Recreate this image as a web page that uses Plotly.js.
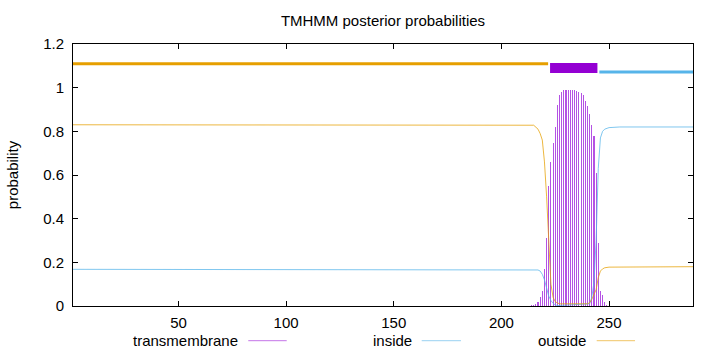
<!DOCTYPE html>
<html>
<head>
<meta charset="utf-8">
<script src="https://cdn.plot.ly/plotly-3.0.1.min.js"></script>
<style>html,body{margin:0;padding:0;background:#fff;}#chart{width:720px;height:352px;}</style>
</head>
<body>
<div id="chart"></div>
<script>
// Transmembrane posterior probability (impulses)
const tmPos = [213,214,215,216,217,218,219,220,221,222,223,224,225,226,227,228,229,230,231,232,233,234,235,236,237,238,239,240,241,242,243,244,245,246,247,248,249,250];
const tmProb = [0.002,0.003,0.005,0.01,0.02,0.04,0.07,0.17,0.31,0.55,0.66,0.745,0.82,0.92,0.965,0.982,0.988,0.99,0.99,0.99,0.99,0.99,0.986,0.98,0.976,0.966,0.94,0.915,0.88,0.83,0.78,0.61,0.29,0.07,0.05,0.02,0.006,0.002];

// Inside posterior probability
const inPos = [1,217,218,219,220,221,222,223,224,225,226,241,242,243,244,245,246,247,248,250,255,289];
const inProb = [0.168,0.165,0.16,0.145,0.12,0.085,0.045,0.025,0.012,0.005,0.002,0.01,0.04,0.11,0.30,0.63,0.77,0.80,0.81,0.817,0.82,0.82];

// Outside posterior probability
const outPos = [1,215,217,218,219,220,221,222,223,224,225,226,227,240,241,242,243,244,245,246,247,248,250,289];
const outProb = [0.83,0.828,0.81,0.79,0.76,0.66,0.50,0.28,0.10,0.04,0.02,0.014,0.01,0.01,0.015,0.03,0.05,0.075,0.13,0.16,0.17,0.175,0.178,0.18];

// Predicted topology segments (start, end) and their bar heights
const segOutside = [1, 221.7];
const segTM = [222.6, 244.6];
const segInside = [245.5, 289];
const barY = {outside: 1.11, tm: 1.09, inside: 1.072};

const xTicks = [50,100,150,200,250];
const yTicks = [0,0.2,0.4,0.6,0.8,1,1.2];
const yTickText = ['0','0.2','0.4','0.6','0.8','1','1.2'];
const legendNames = ['transmembrane','inside','outside'];

const cTM = '#9400d3', cIn = '#56b4e9', cOut = '#e69f00';
const font = 'Liberation Sans, Arial, sans-serif';
const fs = 15;

const traces = [
  {type:'bar', x: tmPos, y: tmProb, width: 0.5, marker:{color:'#b452e4', line:{width:0}}, showlegend:false},
  {type:'scatter', mode:'lines', x: inPos, y: inProb, line:{color:cIn, width:1}, opacity:0.75, showlegend:false},
  {type:'scatter', mode:'lines', x: outPos, y: outProb, line:{color:cOut, width:1}, opacity:0.75, showlegend:false},
  {type:'scatter', mode:'lines', x: segOutside, y:[barY.outside, barY.outside], line:{color:cOut, width:3}, showlegend:false},
  {type:'scatter', mode:'lines', x: segTM, y:[barY.tm, barY.tm], line:{color:cTM, width:10}, showlegend:false},
  {type:'scatter', mode:'lines', x: segInside, y:[barY.inside, barY.inside], line:{color:cIn, width:3}, showlegend:false}
];

// legend (gnuplot style: text then sample line) in paper coordinates
const legY = -0.1324;
const legText = [0.2677, 0.5479, 0.8285];
const legLine = [[0.2827,0.3447],[0.5624,0.6258],[0.8447,0.9065]];
const legColors = ['rgba(148,0,211,0.55)','rgba(86,180,233,0.6)','rgba(230,159,0,0.6)'];

const annotations = legendNames.map((n,i)=>({
  text:n, xref:'paper', yref:'paper', x:legText[i], y:legY, xanchor:'right', yanchor:'middle',
  showarrow:false, font:{family:font, size:fs, color:'#000'}, borderpad:0
}));
const shapes = legendNames.map((n,i)=>({
  type:'line', xref:'paper', yref:'paper', x0:legLine[i][0], x1:legLine[i][1], y0:legY, y1:legY,
  line:{color:legColors[i], width:1}
}));

const layout = {
  width:720, height:352,
  margin:{l:73, r:27, t:44, b:46, pad:0},
  paper_bgcolor:'#fff', plot_bgcolor:'#fff',
  font:{family:font, size:fs, color:'#000'},
  title:{text:'TMHMM posterior probabilities', x:0.5, xref:'paper', y:1-21/352, yanchor:'middle', font:{family:font, size:fs, color:'#000'}},
  bargap:0,
  xaxis:{range:[1,289], tickvals:xTicks, ticks:'inside', ticklen:5, tickcolor:'#000', showline:true, linecolor:'#000', linewidth:1, mirror:'ticks', showgrid:false, zeroline:false, ticklabelstandoff:3, fixedrange:true},
  yaxis:{range:[0,1.2], tickvals:yTicks, ticktext:yTickText, ticks:'inside', ticklen:5, tickcolor:'#000', showline:true, linecolor:'#000', linewidth:1, mirror:'ticks', showgrid:false, zeroline:false, ticklabelstandoff:5,
         title:{text:'probability', standoff:20, font:{family:font, size:fs, color:'#000'}}, fixedrange:true},
  annotations: annotations,
  shapes: shapes
};

Plotly.newPlot('chart', traces, layout, {displayModeBar:false, staticPlot:true});
</script>
</body>
</html>
